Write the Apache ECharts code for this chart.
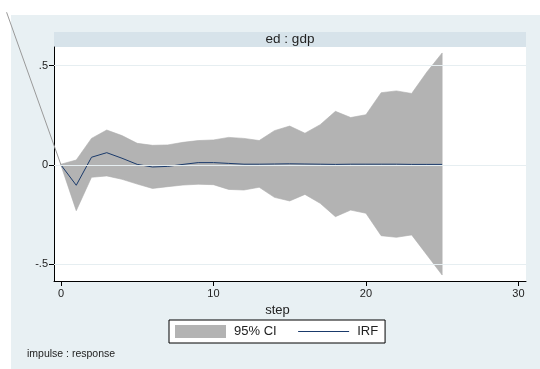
<!DOCTYPE html>
<html>
<head>
<meta charset="utf-8">
<script src="https://cdn.jsdelivr.net/npm/echarts@6/dist/echarts.min.js"></script>
<style>html,body{margin:0;padding:0;background:#fff;}#c{width:540px;height:369px;}</style>
</head>
<body>
<div id="c"></div>
<script>
// ---- data ----
var steps = [0,1,2,3,4,5,6,7,8,9,10,11,12,13,14,15,16,17,18,19,20,21,22,23,24,25];
var irf   = [0,-0.102,0.039,0.062,0.034,0.003,-0.010,-0.007,0.003,0.012,0.012,0.008,0.004,0.004,0.005,0.006,0.005,0.004,0.003,0.004,0.004,0.004,0.004,0.003,0.003,0.003];
var ciUpper = [0.004,0.025,0.134,0.176,0.148,0.109,0.099,0.101,0.114,0.123,0.126,0.139,0.134,0.123,0.173,0.196,0.160,0.203,0.270,0.239,0.253,0.364,0.373,0.360,0.468,0.564];
var ciLower = [-0.002,-0.230,-0.062,-0.055,-0.072,-0.096,-0.118,-0.109,-0.101,-0.097,-0.099,-0.123,-0.126,-0.112,-0.163,-0.181,-0.148,-0.193,-0.260,-0.227,-0.243,-0.356,-0.364,-0.352,-0.453,-0.554];
var xTicks = [0,10,20,30];
var yTicks = [-0.5,0,0.5];
var leaderLine = [[-3.57,0.769],[0,0]];
var panelTitle = 'ed : gdp';
var xTitle = 'step';
var noteText = 'impulse : response';

var FONT = "'Liberation Sans', Arial, sans-serif";
var chart = echarts.init(document.getElementById('c'), null, {renderer:'canvas'});

var bandData = steps.map(function(s,i){return [s, ciLower[i], ciUpper[i]];});
var irfData  = steps.map(function(s,i){return [s, irf[i]];});

var baseGraphics = [
  {id:'bg', type:'rect', z:-10, silent:true, shape:{x:11,y:15,width:529,height:354}, style:{fill:'#e8f0f3'}},
  {id:'strip', type:'rect', z:-9, silent:true, shape:{x:54,y:32,width:472,height:15}, style:{fill:'#d7e3ea'}},
  {id:'plotbg', type:'rect', z:-8, silent:true, shape:{x:54,y:47,width:472,height:234}, style:{fill:'#ffffff'}},
  {id:'note', type:'text', z:5, left:27, top:349, style:{text:noteText, fill:'#222', font:'10.5px '+FONT}}
];

var option = {
  animation:false,
  backgroundColor:'#ffffff',
  textStyle:{fontFamily:FONT},
  graphic:baseGraphics,
  title:{
    text:panelTitle, left:290, top:32, textAlign:'center',
    textStyle:{fontSize:13.5, fontWeight:'normal', color:'#222', fontFamily:FONT, lineHeight:15},
    padding:0
  },
  grid:{left:54, right:14, top:47, bottom:88, containLabel:false},
  xAxis:{
    type:'value', min:-0.46, max:30.5,
    name:xTitle, nameLocation:'middle', nameGap:22,
    nameTextStyle:{fontSize:13, color:'#222', fontFamily:FONT, padding:[0,25,0,0]},
    axisLine:{show:true, onZero:false, lineStyle:{color:'#000', width:1}},
    axisTick:{show:true, length:5, customValues:xTicks, lineStyle:{color:'#000'}},
    axisLabel:{customValues:xTicks, fontSize:11, color:'#222', margin:7, fontFamily:FONT},
    splitLine:{show:false}
  },
  yAxis:{
    type:'value', min:-0.584, max:0.594,
    axisLine:{show:true, onZero:false, lineStyle:{color:'#000', width:1}},
    axisTick:{show:true, length:5, customValues:yTicks, lineStyle:{color:'#000'}},
    axisLabel:{customValues:yTicks, fontSize:11, color:'#222', margin:6, fontFamily:FONT,
      formatter:function(v){ if(v===0) return '0'; return String(v).replace('0.', '.'); }},
    splitLine:{show:false}
  },
  legend:{
    left:169, top:320, orient:'horizontal',
    backgroundColor:'#ffffff', borderColor:'#000', borderWidth:1,
    padding:[5,7,5,6], itemWidth:51, itemHeight:13, itemGap:21,
    textStyle:{fontSize:13, color:'#222', fontFamily:FONT, padding:[0,0,0,3]},
    data:[{name:'95% CI', icon:'rect', itemStyle:{color:'#b3b3b3'}},
          {name:'IRF', itemStyle:{opacity:0}, lineStyle:{color:'#1a3a6b', width:1}}]
  },
  series:[
    {
      name:'gridlines', type:'line', data:irfData, symbol:'none', showSymbol:false,
      lineStyle:{width:0, opacity:0}, silent:true, z:0,
      markLine:{
        silent:true, symbol:['none','none'], label:{show:false},
        lineStyle:{color:'#e6eef1', width:1, type:'solid'},
        data:yTicks.map(function(v){return {yAxis:v};})
      }
    },
    {
      name:'95% CI', type:'custom', data:bandData, z:2,
      itemStyle:{color:'#b3b3b3'},
      encode:{x:0, y:[1,2]},
      renderItem:function(params, api){
        if(params.dataIndex !== 0) return null;
        var pts = [];
        for(var i=0;i<bandData.length;i++) pts.push(api.coord([bandData[i][0], bandData[i][2]]));
        for(var j=bandData.length-1;j>=0;j--) pts.push(api.coord([bandData[j][0], bandData[j][1]]));
        return {type:'polygon', shape:{points:pts}, style:{fill:'#b3b3b3', stroke:'#adadad', lineWidth:0.6}};
      }
    },
    {
      name:'IRF', type:'line', data:irfData, symbol:'none', showSymbol:false,
      color:'#1a3a6b', lineStyle:{width:1, color:'#1a3a6b'}, z:3
    }
  ]
};
chart.setOption(option);

// leader line: endpoints converted from data coordinates through the chart's own scales
var pA = chart.convertToPixel({gridIndex:0}, leaderLine[0]);
var pB = chart.convertToPixel({gridIndex:0}, leaderLine[1]);
chart.setOption({graphic: baseGraphics.concat([
  {id:'leader', type:'line', z:20, silent:true,
   shape:{x1:pA[0], y1:pA[1], x2:pB[0], y2:pB[1]},
   style:{stroke:'#9a9a9a', lineWidth:1}}
])});
</script>
</body>
</html>
